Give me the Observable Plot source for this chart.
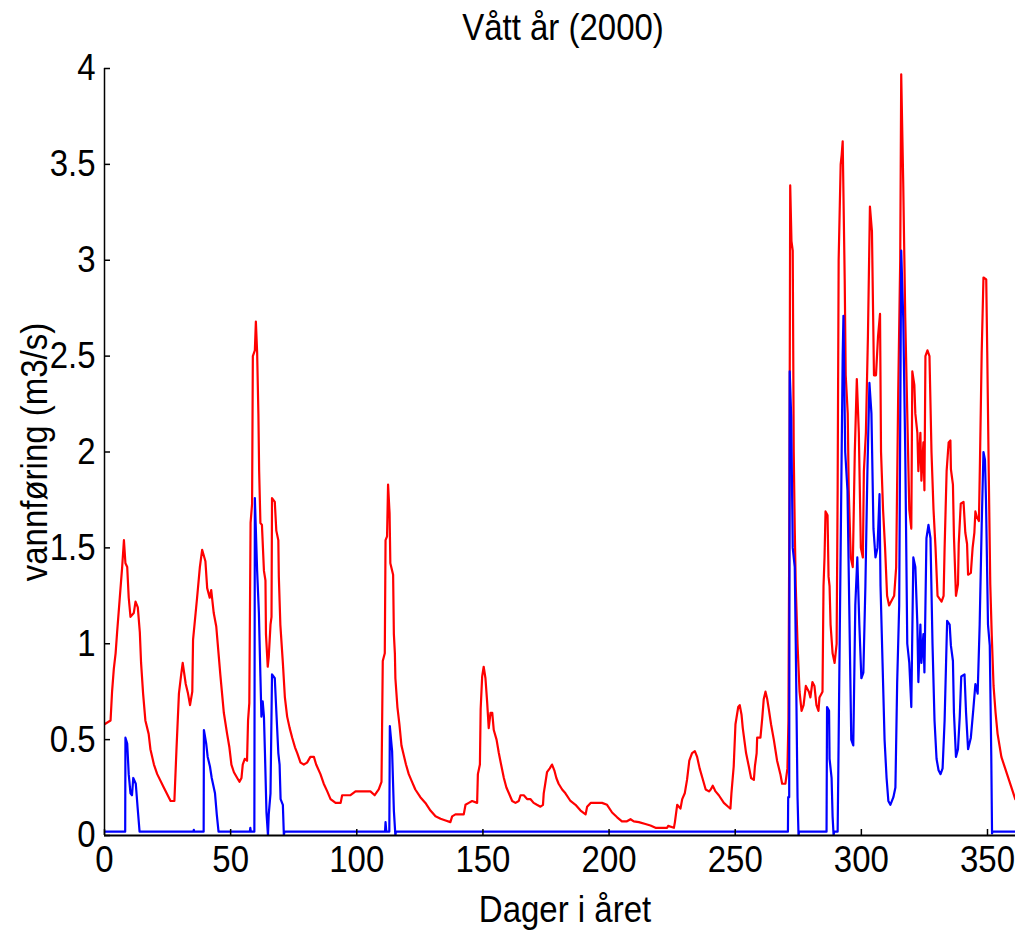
<!DOCTYPE html>
<html>
<head>
<meta charset="utf-8">
<script src="https://cdn.jsdelivr.net/npm/d3@7"></script>
<script src="https://cdn.jsdelivr.net/npm/@observablehq/plot@0.6"></script>
<style>
  html, body { margin: 0; padding: 0; background: #fff; }
  #chart svg { display: block; }
</style>
</head>
<body>
<div id="chart"></div>
<script>
const chartTitle = "Vått år (2000)";
const xLabel = "Dager i året";
const yLabel = "vannføring (m3/s)";
const xTicks = [0, 50, 100, 150, 200, 250, 300, 350];
const yTicks = [0, 0.5, 1, 1.5, 2, 2.5, 3, 3.5, 4];

// Red series (total flow)
const redDays = [0,2.4,3,3.7,4.4,5,6,7,7.7,8.3,9,9.6,10.3,11.6,12.3,13.2,14,14.5,15.3,16.2,17.5,18.2,19.6,20.9,23.5,26.2,27.7,28.5,29.5,30.4,31,32.2,33.1,33.9,34.8,35.1,36.7,37.8,38.7,40,40.7,41.7,42.3,43.3,44.3,45.2,45.9,47.3,48.6,
49.5,50.3,51.3,52.6,53.5,54.3,54.8,55.6,56.5,56.9,57.4,57.9,58.5,58.8,59.6,60,60.5,61,61.3,61.8,62.4,63.2,63.8,64,64.7,65.1,65.8,66.2,66.4,67.5,68.1,68.9,69.1,69.7,70.7,71.5,72.4,73.4,74.4,75.5,76.4,77.7,79,80.3,81.6,83,83.9,85.6,86.9,88.3,89.6,91.6,93.6,94.2,95.6,97.5,99.5,105.4,107.1,108.7,109.8,110.3,111.1,111.4,112,112.4,113,113.3,114.4,114.7,115.1,115.3,116.1,116.9,117.7,118.6,119.5,120.6,121.9,123.2,125.2,127.2,129.2,131.2,133.2,135.2,137.1,137.8,139.1,142.4,143.1,144.4,145.7,147.7,148,148.8,149.1,149.7,150.3,151,151.7,152.3,153,153.7,154.3,155.4,156.3,157.2,158.3,159.3,160.3,161.6,162.9,164.2,164.9,166.2,167.5,168.8,170.1,171.4,172.8,173.8,174.1,174.7,175.4,176.5,177.4,178.3,179.1,180,181.4,182.7,184.7,186.7,188.7,190.7,191.3,192.7,197.2,199.2,201.2,203.2,205.1,207.1,208.5,209.8,211.8,214.4,216.4,218.4,223,223.4,225.7,226.1,227,228.3,229,230,230.9,231.8,232.9,234,234.9,235.9,237,238.3,239.6,240.3,241.1,242.2,243.5,245.5,247.2,248.1,248.5,249.4,250.1,251.2,251.8,252.5,253,254.3,255.4,256.3,257.4,257.8,258.5,258.7,260,260.7,261.3,262,262.7,263.3,264.2,265.3,266.6,267.9,268.6,269.9,
270.7,271.1,271.5,271.8,272.3,272.8,273.2,273.6,274,274.7,275.5,276.3,277.1,278,279.2,279.8,280.6,281.4,282.2,283,283.4,284.6,285,285.4,285.8,286.6,287,287.4,287.8,288.6,289.4,290.2,290.6,291,291.8,292.2,292.6,293.4,293.8,294.6,295,295.8,296.6,297.4,298.2,299,299.8,300.6,301,301.8,302.6,303.4,304.2,305,305.8,306.6,307.4,307.8,308.6,309.4,310.2,311,311.8,313,313.8,314.6,315.4,315.8,316.6,317.4,318.2,319,319.8,320.2,321,321.4,322.2,322.6,323.4,323.8,324.6,325,325.4,326.2,327,327.8,328.6,329.4,330.2,331.8,332.6,333,333.8,334.6,335.3,335.5,336.3,336.7,337.5,338.3,338.6,339.4,340.5,341.2,341.9,342.3,343.4,344.1,344.8,345.2,345.8,346.6,347,347.7,348.4,349.5,349.9,350.5,351.1,351.7,352.4,353.2,354,355.5,357,358.5,360,361,363];
const redFlow = [0.58,0.60,0.75,0.87,0.95,1.06,1.23,1.40,1.54,1.42,1.40,1.24,1.14,1.16,1.22,1.19,1.06,0.90,0.74,0.60,0.53,0.45,0.37,0.32,0.25,0.18,0.18,0.44,0.74,0.84,0.90,0.79,0.74,0.68,0.75,1.02,1.24,1.40,1.49,1.43,1.29,1.24,1.28,1.16,1.09,0.95,0.84,0.64,0.53,
0.46,0.37,0.33,0.30,0.28,0.30,0.37,0.40,0.39,0.60,0.69,1.63,1.73,2.50,2.53,2.68,2.52,2.2,1.90,1.63,1.62,1.38,1.33,1.05,0.88,0.93,1.10,1.14,1.76,1.74,1.59,1.54,1.35,1.10,0.90,0.72,0.62,0.56,0.51,0.46,0.43,0.38,0.37,0.38,0.41,0.41,0.37,0.32,0.27,0.23,0.19,0.17,0.17,0.21,0.21,0.21,0.23,0.23,0.21,0.24,0.28,0.91,0.95,1.54,1.56,1.83,1.68,1.42,1.36,1.05,0.95,0.82,0.67,0.58,0.47,0.42,0.37,0.32,0.28,0.24,0.20,0.17,0.13,0.10,0.087,0.078,0.07,0.10,0.11,0.11,0.16,0.17,0.18,0.17,0.32,0.37,0.66,0.83,0.88,0.82,0.69,0.56,0.64,0.64,0.55,0.50,0.43,0.37,0.30,0.25,0.22,0.18,0.17,0.18,0.21,0.21,0.19,0.19,0.17,0.16,0.15,0.16,0.22,0.27,0.33,0.35,0.37,0.34,0.30,0.27,0.24,0.22,0.18,0.16,0.13,0.11,0.15,0.17,0.17,0.16,0.12,0.095,0.074,0.074,0.085,0.074,0.07,0.06,0.052,0.04,0.04,0.05,0.04,0.07,0.16,0.14,0.19,0.22,0.29,0.39,0.43,0.44,0.41,0.35,0.30,0.24,0.23,0.24,0.26,0.23,0.21,0.17,0.15,0.14,0.22,0.36,0.58,0.67,0.68,0.63,0.56,0.43,0.36,0.30,0.29,0.36,0.43,0.51,0.51,0.61,0.71,0.75,0.71,0.66,0.58,0.50,0.39,0.32,0.27,0.27,
0.35,0.6,1.8,3.39,3.1,3.05,2.0,1.6,1.3,1.0,0.75,0.65,0.68,0.78,0.75,0.72,0.80,0.78,0.68,0.65,0.72,0.75,1.3,1.45,1.69,1.67,1.35,1.3,1.1,0.95,0.9,1.0,1.8,3.0,3.5,3.55,3.62,2.9,2.4,2.2,1.8,1.45,1.4,2.0,2.38,2.1,1.5,1.45,1.9,2.1,2.6,3.28,3.15,2.4,2.4,2.6,2.72,2.0,1.7,1.5,1.25,1.2,1.22,1.25,1.4,2.3,3.0,3.97,3.4,2.7,2.2,1.7,1.6,2.42,2.35,2.2,2.1,1.9,2.1,1.85,2.05,1.8,2.5,2.53,2.5,2.0,1.7,1.5,1.25,1.22,1.25,1.5,1.9,2.05,2.06,1.91,1.83,1.56,1.25,1.31,1.52,1.73,1.74,1.58,1.52,1.36,1.37,1.50,1.58,1.69,1.66,1.64,1.94,2.52,2.91,2.9,2.52,1.89,1.31,1.04,0.78,0.64,0.53,0.41,0.35,0.29,0.23,0.19,0.16];

// Blue series
const blueDays = [0,8.2,8.3,9,9.6,10.3,10.9,11.4,12.4,13.1,13.9,35.2,35.4,35.6,39.3,39.4,40.3,40.9,41.8,42.5,43.8,44.5,45.2,57.6,57.8,58,59.4,59.6,60.5,61.2,61.8,62.2,62.7,63.2,63.6,64.2,64.8,65.1,65.8,66.4,67.5,68.1,68.9,69.4,69.8,70.7,71.1,71.3,111.2,111.4,111.7,112.9,113.1,114,114.7,115.3,115.5,270.9,271,271.4,271.6,272.2,272.8,273.6,274,274.7,275.1,275.3,286.2,286.4,287.2,287.4,288.2,288.6,289,289.2,290.6,291,291.8,292.6,292.9,293.6,294.5,295.2,296,296.8,297.6,298.4,299.2,300,300.8,301.6,302.4,303.2,304,304.8,305.6,306.4,307.2,307.6,308.4,309.2,310,310.7,311.5,312.7,313.5,314.2,315,315.8,316.6,317.4,318.2,319,319.8,320.6,321.4,322.2,322.6,323.4,323.8,324.6,325,325.8,326.6,327.4,328.2,329,329.8,330.6,331.4,332.2,333,334,335,335.5,336.3,336.7,337.5,338.3,339,339.6,340.9,341.5,342.3,343.4,344.4,345.2,346.1,346.9,347.7,348.4,349,349.4,350.2,350.9,351.5,351.8,352,363];
const blueFlow = [0.02,0.02,0.51,0.48,0.32,0.22,0.21,0.30,0.27,0.15,0.02,0.02,0.03,0.02,0.02,0.55,0.48,0.41,0.36,0.30,0.22,0.11,0.02,0.02,0.04,0.02,0.02,1.76,1.38,1.16,0.83,0.62,0.70,0.62,0.43,0.12,0.0,0.11,0.22,0.84,0.82,0.65,0.43,0.37,0.19,0.16,0.0,0.02,0.02,0.07,0.02,0.02,0.57,0.44,0.13,0.0,0.02,0.02,0.2,0.2,2.42,2.18,1.5,1.4,1.0,0.2,0.0,0.02,0.02,0.67,0.65,0.4,0.3,0.1,0.0,0.02,0.02,0.5,1.5,2.5,2.71,2.0,1.8,1.2,0.5,0.47,1.2,1.45,1.1,0.82,0.85,1.3,1.9,2.36,2.2,1.6,1.45,1.5,1.78,1.3,0.9,0.5,0.3,0.18,0.16,0.2,0.25,0.8,1.2,3.05,2.7,2.0,1.0,0.9,0.67,1.45,1.4,1.1,0.8,1.1,0.9,1.05,0.85,1.55,1.62,1.55,1.0,0.6,0.4,0.34,0.32,0.35,0.6,1.12,1.1,0.99,0.91,0.64,0.41,0.45,0.62,0.83,0.84,0.64,0.45,0.51,0.66,0.79,0.74,1.10,1.62,2.0,1.96,1.75,1.10,0.99,0.41,0.01,0.02,0.02];

const red = redDays.map((d, i) => ({day: d, flow: redFlow[i]}));
const blue = blueDays.map((d, i) => ({day: d, flow: blueFlow[i]}));

const font = "'Liberation Sans', Arial, sans-serif";
const fs = 33;

const chart = Plot.plot({
  width: 1015,
  height: 934,
  marginLeft: 104,
  marginRight: 0,
  marginTop: 68,
  marginBottom: 99,
  x: {domain: [0, 361.1]},
  y: {domain: [0, 4]},
  style: {fontFamily: font, fontSize: fs + "px", background: "#fff", color: "#000", overflow: "visible"},
  marks: [
    Plot.line(red, {x: "day", y: "flow", stroke: "#ff0000", strokeWidth: 2.2, clip: true}),
    Plot.line(blue, {x: "day", y: "flow", stroke: "#0000ff", strokeWidth: 2.2, clip: true}),
    Plot.ruleX([0], {stroke: "#000", strokeWidth: 1.5}),
    Plot.ruleY([0], {stroke: "#000", strokeWidth: 2}),
    Plot.tickY(yTicks, {y: d => d, stroke: "#000", strokeWidth: 1.5, insetRight: 905}),
    Plot.tickX(xTicks, {x: d => d, stroke: "#000", strokeWidth: 1.5, insetTop: 761}),
    Plot.axisY(yTicks, {tickSize: 0, tickPadding: 9, label: null, fontSize: fs, fill: "#000", tickFormat: d => String(d)}),
    Plot.axisX(xTicks, {tickSize: 0, tickPadding: 12, label: null, fontSize: fs, fill: "#000", tickFormat: d => String(d)}),
    Plot.text([chartTitle], {frameAnchor: "top", lineAnchor: "middle", dy: -40, dx: 3, fontSize: fs, fill: "#000"}),
    Plot.text([xLabel], {frameAnchor: "bottom", lineAnchor: "middle", dy: 75, dx: 5, fontSize: fs, fill: "#000"}),
    Plot.text([yLabel], {frameAnchor: "left", textAnchor: "middle", lineAnchor: "middle", dx: -69, rotate: -90, fontSize: fs, fill: "#000"})
  ]
});
document.getElementById("chart").appendChild(chart);

// Stretch glyphs vertically (reference text is taller than normal Arial metrics)
const k = 1.12;
chart.querySelectorAll("text").forEach(el => {
  const b = el.getBBox();
  const cy = b.y + b.height / 2;
  const t = el.getAttribute("transform") || "";
  el.setAttribute("transform", `${t} translate(0,${cy}) scale(1,${k}) translate(0,${-cy})`);
});
</script>
</body>
</html>
